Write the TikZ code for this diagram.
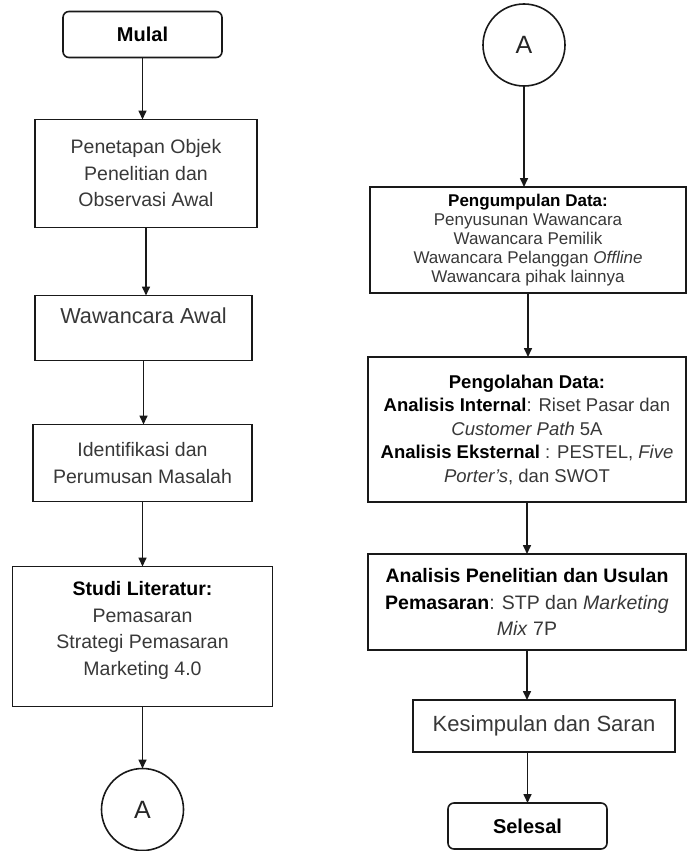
\documentclass[tikz,border=0pt]{standalone}
\usepackage{fontspec}
\setmainfont{Liberation Sans}
\usetikzlibrary{positioning,arrows.meta}

\newcommand{\hd}[1]{{\color{black}\bfseries #1}}

\begin{document}
\begin{tikzpicture}[
        x=1pt, y=-1pt,
        box/.style={
            rectangle,
            draw=black!90,
            line width=1.6pt,
            inner sep=0pt,
            outer sep=0pt,
            align=center,
            text=black!78,
            font=\fontsize{19.5}{26.5}\selectfont
        },
        smallbox/.style={
            box,
            font=\fontsize{17}{19}\selectfont
        },
        midbox/.style={
            box,
            font=\fontsize{18.5}{23.5}\selectfont
        },
        term/.style={
            box,
            rounded corners=6pt,
            minimum width=159pt,
            minimum height=46pt,
            text=black,
            font=\fontsize{20}{24}\selectfont\bfseries
        },
        link/.style={
            circle,
            draw=black!90,
            line width=1.6pt,
            minimum size=82pt,
            inner sep=0pt,
            outer sep=0pt,
            text=black!85,
            font=\fontsize{25}{28}\selectfont
        },
        arrow/.style={
            ->,
            line width=1.6pt,
            draw=black!90,
            >={Triangle[length=9pt,width=8pt]}
        }
    ]

    \fill[white] (0,0) rectangle (689,851);
    \useasboundingbox (0,0) rectangle (689,851);

    % Left column
    \node[term] (start) at (142.5,34.5) {Mulal};
    \node[box, below=62pt of start, xshift=3.5pt, minimum width=222pt, minimum height=108pt] (objek) {Penetapan Objek\\Penelitian dan\\Observasi Awal};
    \node[box, below=68pt of objek, xshift=-2.5pt, minimum width=217pt, minimum height=65pt, text depth=24pt, font=\fontsize{21.7}{26}\selectfont] (awal) {Wawancara Awal};
    \node[box, below=64pt of awal, xshift=-1pt, minimum width=219pt, minimum height=77pt] (masalah) {Identifikasi dan\\Perumusan Masalah};
    \node[box, below=65pt of masalah, minimum width=260pt, minimum height=140pt, text depth=16pt] (studi) {\hd{Studi Literatur:}\\Pemasaran\\Strategi Pemasaran\\Marketing 4.0};
    \node[link, below=62pt of studi] (linkA) {A};

    % Right column
    \node[link] (linkB) at (524,45) {A};
    \node[smallbox, below=101pt of linkB, xshift=4pt, minimum width=316pt, minimum height=106pt] (kumpul) {\hd{Pengumpulan Data:}\\Penyusunan Wawancara\\Wawancara Pemilik\\Wawancara Pelanggan \textit{Offline}\\Wawancara pihak lainnya};
    \node[midbox, below=64pt of kumpul, xshift=-1pt, minimum width=318pt, minimum height=145pt] (olah) {\hd{Pengolahan Data:}\\\hd{Analisis Internal}: Riset Pasar dan\\\textit{Customer Path} 5A\\\hd{Analisis Eksternal} : PESTEL, \textit{Five}\\\textit{Porter's}, dan SWOT};
    \node[box, below=52pt of olah, minimum width=318pt, minimum height=96pt, font=\fontsize{19.5}{26.5}\selectfont] (usulan) {\hd{Analisis Penelitian dan Usulan}\\\hd{Pemasaran}: STP dan \textit{Marketing}\\\textit{Mix} 7P};
    \node[box, below=50pt of usulan, xshift=17pt, minimum width=262pt, minimum height=52pt, font=\fontsize{22}{26}\selectfont] (simpul) {Kesimpulan dan Saran};
    \node[term, below=51pt of simpul, xshift=-16.5pt] (selesai) {Selesal};

    % Connections
    \draw[arrow] (start.south) -- (start.south |- objek.north);
    \draw[arrow] (objek.south) -- (objek.south |- awal.north);
    \draw[arrow] (awal.south) -- (awal.south |- masalah.north);
    \draw[arrow] (masalah.south) -- (masalah.south |- studi.north);
    \draw[arrow] (studi.south) -- (linkA.north);

    \draw[arrow] (linkB.south) -- (linkB.south |- kumpul.north);
    \draw[arrow] (kumpul.south) -- (kumpul.south |- olah.north);
    \draw[arrow] (olah.south) -- (olah.south |- usulan.north);
    \draw[arrow] (usulan.south) -- (usulan.south |- simpul.north);
    \draw[arrow] (selesai.north |- simpul.south) -- (selesai.north);

\end{tikzpicture}
\end{document}
